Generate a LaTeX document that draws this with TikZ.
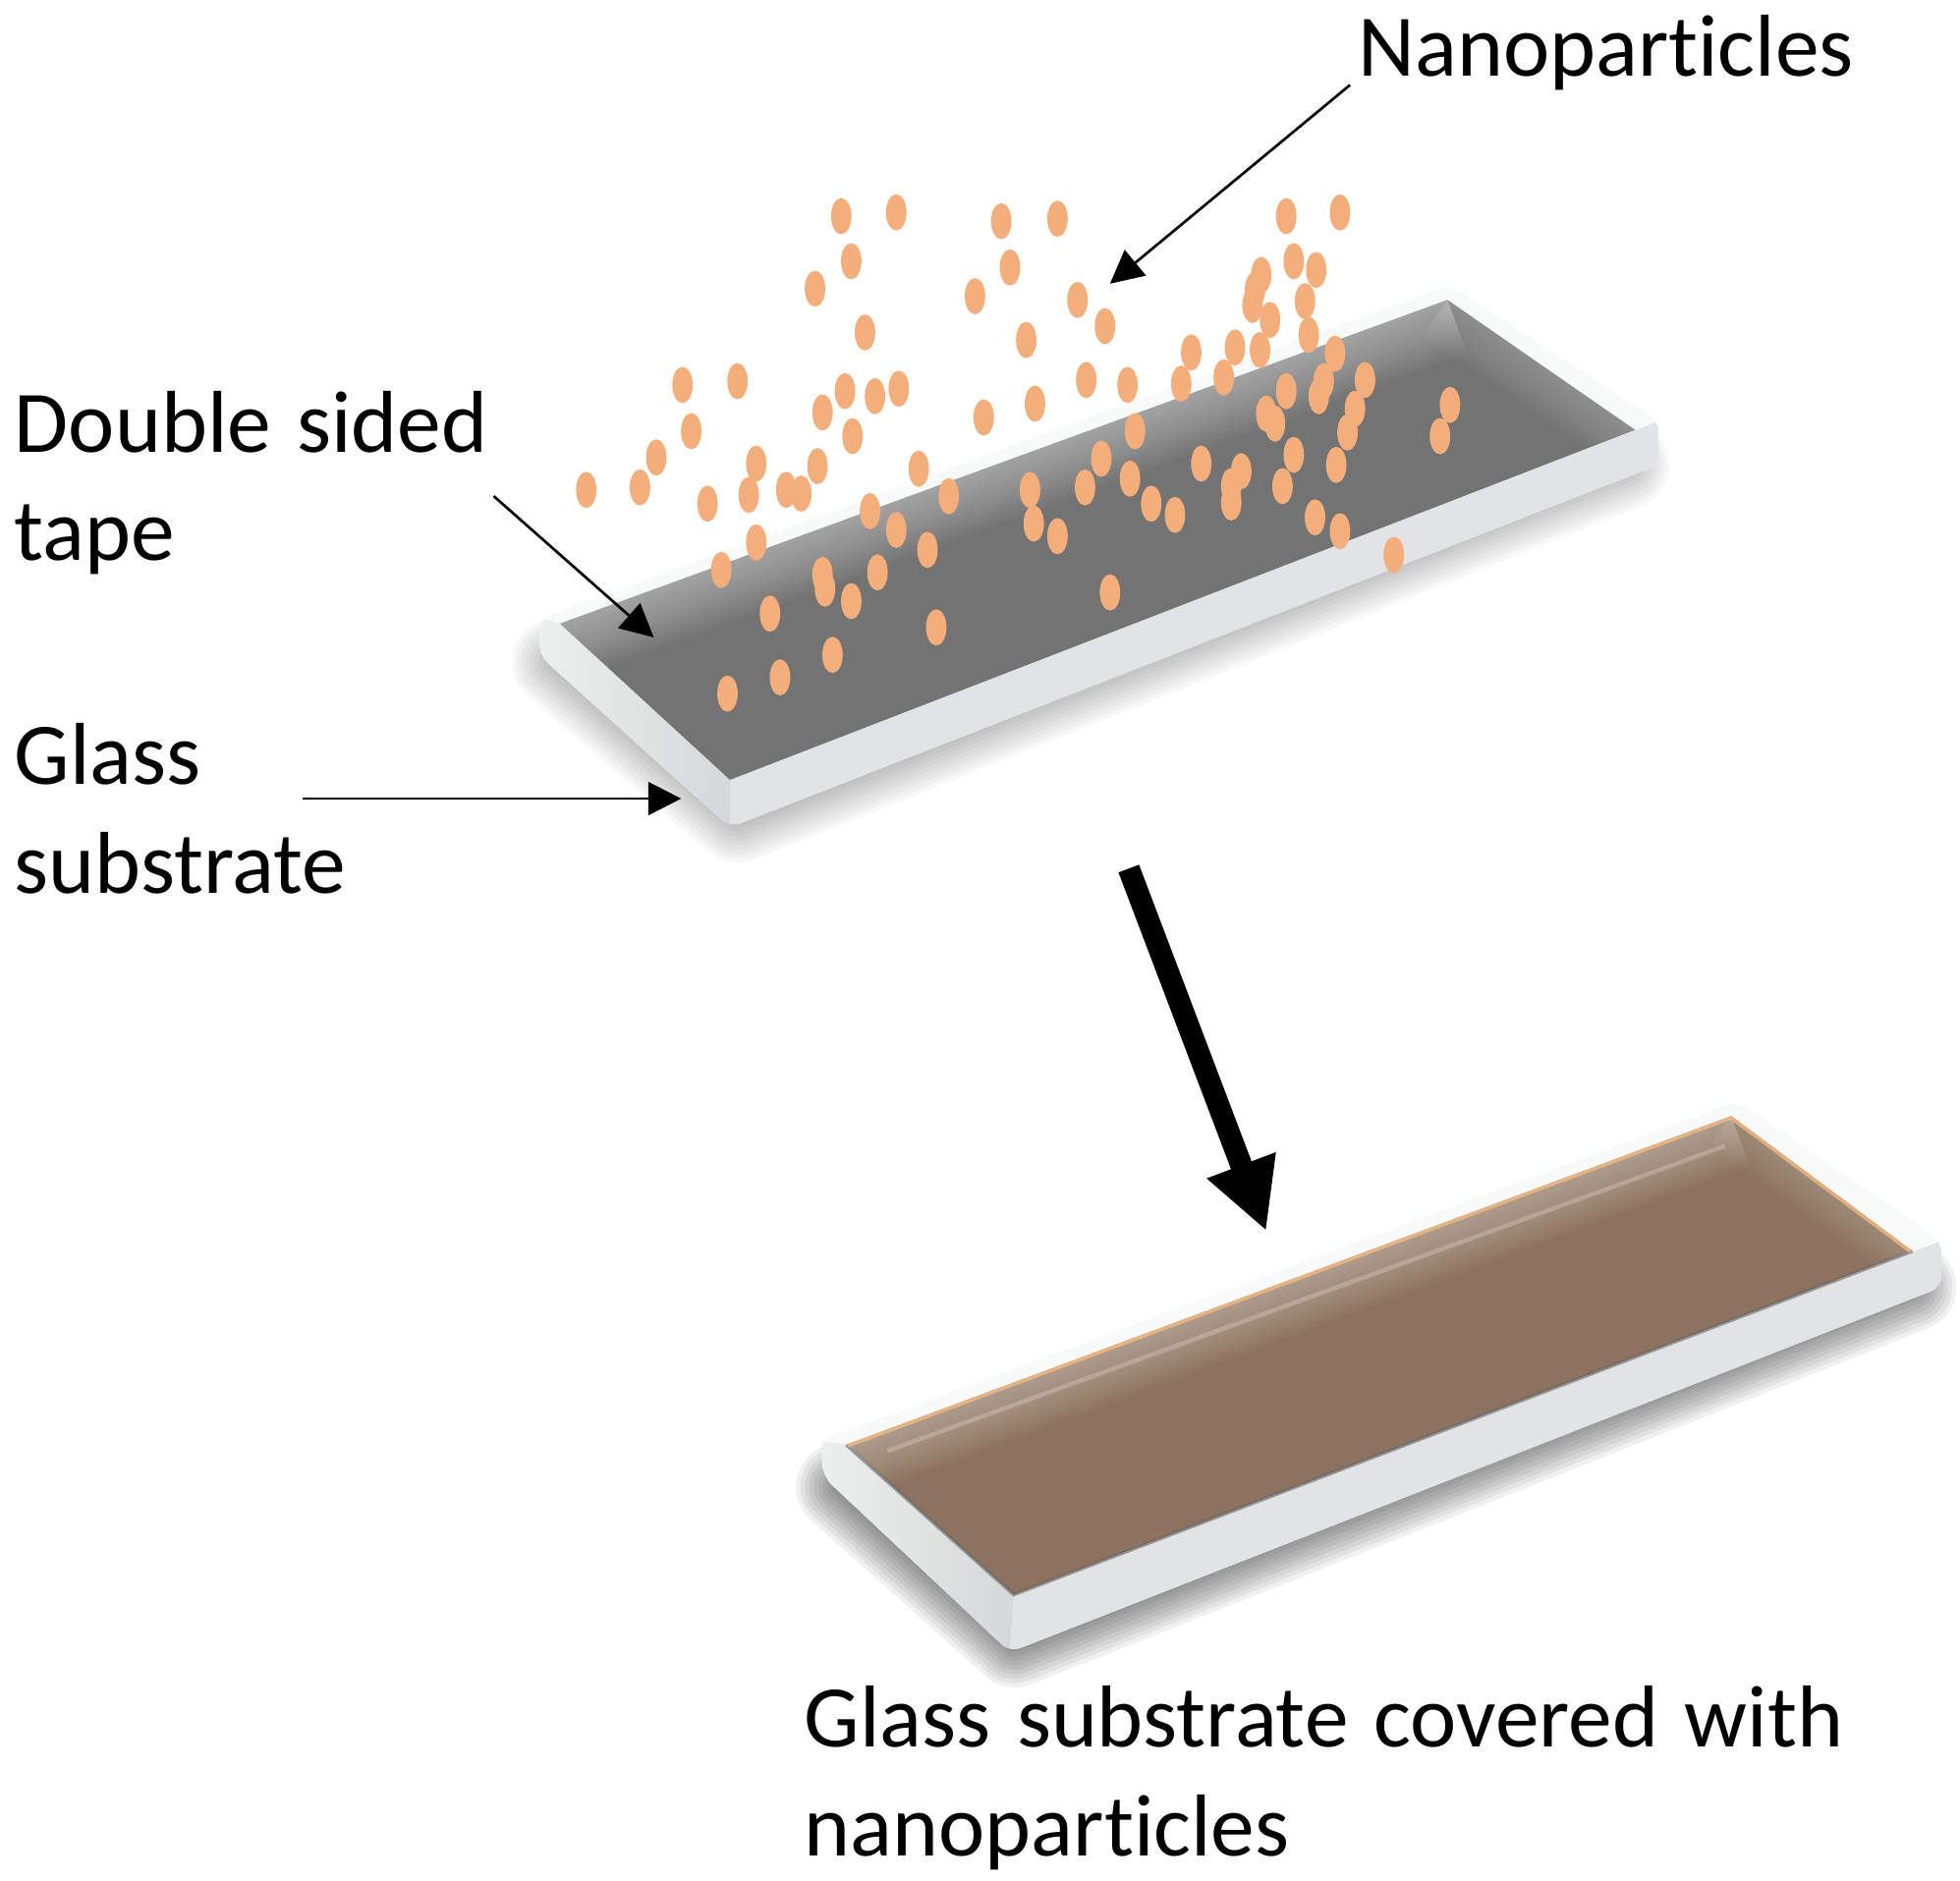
\documentclass[tikz,border=0pt]{standalone}
\usepackage{fontspec}
\setmainfont[Ligatures=CommonOff,WordSpace=1.3]{Carlito}
\usetikzlibrary{arrows.meta}
\definecolor{dotcolor}{HTML}{F4AE7C}
\definecolor{tapegray}{HTML}{737373}
\definecolor{coverbrown}{HTML}{8D735F}
\definecolor{rimcolor}{HTML}{F8F9F9}
\definecolor{frontcolor}{HTML}{E2E3E4}
\definecolor{sidelight}{HTML}{EDEEEE}
\definecolor{sidedark}{HTML}{D6D7D8}

\begin{document}
\begin{tikzpicture} [
                x=0.01cm,
                y=-0.01cm,
                note/.style = {font=\fontsize{20}{24.8}\selectfont,inner sep=0pt,anchor=north west,align=left},
                pointer/.style = {draw,line width=0.6pt,-{Triangle[length=7.5pt,width=7.5pt]}},
                process arrow/.style = {draw,line width=5pt,-{Triangle[length=16pt,width=15.6pt]}},
                particle/.style = {fill=dotcolor},
                rim/.style = {fill=rimcolor},
                front face/.style = {fill=frontcolor},
                side face/.style = {left color=sidelight,right color=sidedark},
                glow/.style = {white,line cap=square},
                soft shadow/.style = {black,line join=round,line cap=round}
            ]
            \useasboundingbox (0,0) rectangle (1568,1505);
            % First the corners of both slides
            \foreach \px/\py/\name in {
                432/495/gl, 1160/228/gb, 1327/337/gr, 584/662/gd, 1327/372/ge, 432/525/gc,
                448/499/tl, 1158/240/tb, 1308/344/tr, 584/624/tf,
                656/1153/cl, 1390/881/cb, 1553/993/cr, 808/1322/cd, 1553/1030/ce, 659/1182/cc,
                677/1156/bl, 1385/893/bb, 1530/1001/br, 811/1276/bf,
                903/695/st, 1013/985/sh,
                1080/68/na, 888/227/nb, 395/397/da, 523/510/db, 242/639/ga, 545/639/gz,
                445/530/gs, 590/655/gt, 1300/372/gu,
                672/1190/cs, 812/1315/ct, 1530/1030/cu}
                \coordinate (\name) at (\px,\py);
            % Soft shadows under the slides
            \foreach \w in {2,4,...,20}
                \draw[soft shadow,opacity=0.03,line width=\w pt] (gs) -- (gt) -- (gu);
            \foreach \w in {2,4,...,20}
                \draw[soft shadow,opacity=0.06,line width=\w pt] (cs) -- (ct) -- (cu);
            % Glass substrate with tape
            \begin{scope}
                \clip[rounded corners=2.5pt] (gl) -- (gb) -- (gr) -- (ge) -- (gd) -- (gc) -- cycle;
                \path[rim] (gl) -- (gb) -- (gr) -- (ge) -- (gd) -- (gc) -- cycle;
                \path[side face] (gl) -- (tl) -- (tf) -- (gd) -- (gc) -- cycle;
                \path[front face] (tf) -- (gr) -- (ge) -- (gd) -- cycle;
                \path[fill=tapegray] (tl) -- (tb) -- (tr) -- (tf) -- cycle;
                \clip (tl) -- (tb) -- (tr) -- (tf) -- cycle;
                \foreach \w in {2,4,...,26}
                    \draw[glow,opacity=0.035,line width=\w pt] (tl) -- (tb);
                \foreach \w in {2,4,...,20}
                    \draw[glow,opacity=0.025,line width=\w pt] (tb) -- (tr);
            \end{scope}
            % Slide covered with particles
            \begin{scope}
                \clip[rounded corners=2.5pt] (cl) -- (cb) -- (cr) -- (ce) -- (cd) -- (cc) -- cycle;
                \path[rim] (cl) -- (cb) -- (cr) -- (ce) -- (cd) -- (cc) -- cycle;
                \path[side face] (cl) -- (bl) -- (bf) -- (cd) -- (cc) -- cycle;
                \path[front face] (bf) -- (cr) -- (ce) -- (cd) -- cycle;
                \path[fill=coverbrown] (bl) -- (bb) -- (br) -- (bf) -- cycle;
                \draw[black!60,opacity=0.6,line width=0.8pt] (bl) -- (bf) -- (br);
                \clip (bl) -- (bb) -- (br) -- (bf) -- cycle;
                \foreach \w in {2,4,...,24}
                    \draw[glow,opacity=0.03,line width=\w pt] (bl) -- (bb);
                \foreach \w in {2,4,...,16}
                    \draw[glow,opacity=0.025,line width=\w pt] (bb) -- (br);
                \draw[white,opacity=0.22,line width=1pt] (710,1161) -- (1380,917);
                \draw[orange!50!white,opacity=0.7,line width=1.5pt] (bl) -- (bb) -- (br);
            \end{scope}
            % The falling particles
            \foreach \px/\py in {
                673/173, 717/170, 801/177, 846/175, 1029/173, 1072/170, 681/209, 808/214,
                1035/209, 1053/216, 652/231, 780/237, 862/240, 1009/220, 1044/241, 1004/232,
                1002/244, 1016/256, 692/266, 821/272, 884/261, 1047/268, 546/308, 590/305,
                676/313, 700/317, 719/311, 869/304, 902/308, 953/282, 988/278, 1008/280,
                1068/283, 945/307, 979/302, 1029/313, 1059/305, 1055/317, 1092/304, 1084/327,
                1078/346, 828/323, 787/334, 658/330, 553/345, 682/349, 908/345, 1013/331,
                1020/339, 1160/324, 1152/349, 525/366, 605/371, 654/373, 735/375, 881/367,
                961/371, 993/377, 1035/364, 1069/372, 469/392, 512/390, 566/403, 599/396,
                629/392, 641/395, 824/392, 868/390, 904/383, 1026/389, 985/389, 985/402,
                759/397, 921/403, 940/412, 696/409, 717/424, 742/440, 827/419, 846/429,
                1052/414, 1072/425, 1115/444, 605/434, 577/456, 658/460, 660/471, 702/458,
                681/481, 888/474, 616/491, 749/502, 666/524, 624/542, 582/555}
                \path[particle] (\px,\py) ellipse (8.2 and 14.5);
            % Arrows
            \path[pointer] (na) -- (nb);
            \path[pointer] (da) -- (db);
            \path[pointer] (ga) -- (gz);
            \path[process arrow] (st) -- (sh);
            % Labels
            \node[note] (nano) at (1086,11) {Nanoparticles};
            \node[note] (tape) at (11,312) {Double sided\\tape};
            \node[note] (glass) at (11,578) {Glass\\substrate};
            \node[note] (covered) at (643,1348) {Glass substrate covered with\\nanoparticles};
        \end{tikzpicture}
\end{document}
